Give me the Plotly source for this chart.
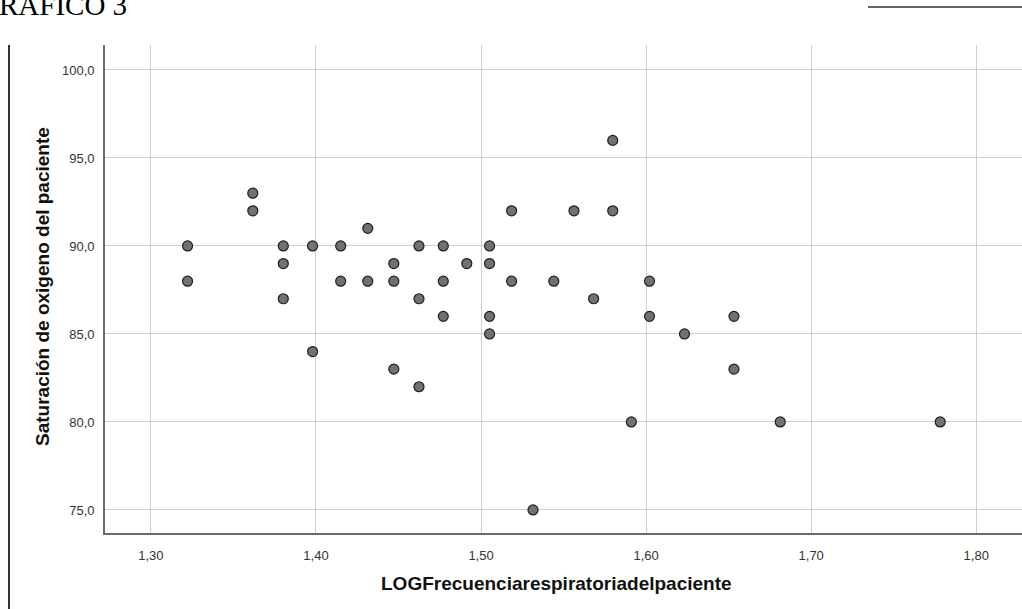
import numpy as np
import plotly.graph_objects as go

# Respiratory rate (breaths/min) and oxygen saturation per patient
resp_rate = [21, 21, 23, 23, 24, 24, 24, 25, 25, 26, 26, 27, 27, 28, 28, 28,
             29, 29, 29, 30, 30, 30, 31, 32, 32, 32, 32, 33, 33, 34, 35, 36,
             37, 38, 38, 39, 40, 40, 42, 45, 45, 48, 60]
spo2 = [90, 88, 93, 92, 90, 89, 87, 90, 84, 90, 88, 91, 88, 89, 88, 83,
        90, 87, 82, 90, 88, 86, 89, 90, 89, 86, 85, 92, 88, 75, 88, 92,
        87, 96, 92, 80, 88, 86, 85, 86, 83, 80, 80]
x_ticks = [1.30, 1.40, 1.50, 1.60, 1.70, 1.80]
y_ticks = [75, 80, 85, 90, 95, 100]

x_title = "LOGFrecuenciarespiratoriadelpaciente"
y_title = "Saturación de oxigeno del paciente"
doc_heading = "RAFICO 3"

log_rate = np.log10(resp_rate)

W, H = 1022, 609
ML, MR, MT, MB = 105, 0, 45, 76
PW, PH = W - ML - MR, H - MT - MB

def px_x(p):
    return (p - ML) / PW

def px_y(p):
    return (H - MB - p) / PH

fig = go.Figure()
fig.add_trace(go.Scatter(
    x=log_rate, y=spo2, mode="markers",
    marker=dict(size=10, color="#717171", line=dict(color="#1e1e1e", width=1.2)),
    hoverinfo="x+y", showlegend=False,
))

axis_font = dict(family="Liberation Sans, Arial, sans-serif", size=13, color="#333333")
title_font = dict(family="Liberation Sans, Arial, sans-serif", size=19, color="#111111")

fig.update_layout(
    width=W, height=H,
    margin=dict(l=ML, r=MR, t=MT, b=MB),
    paper_bgcolor="white", plot_bgcolor="white",
    separators=",.",
    xaxis=dict(
        range=[1.2722, 1.8277], tickvals=x_ticks, tickformat=".2f",
        showgrid=True, gridcolor="#cfcfcf", gridwidth=1.2,
        showline=True, linecolor="#6a6a6a", linewidth=1.6,
        zeroline=False, ticks="", tickfont=axis_font, ticklabelstandoff=10,
    ),
    yaxis=dict(
        range=[73.69, 101.42], tickvals=y_ticks, tickformat=".1f",
        showgrid=True, gridcolor="#cfcfcf", gridwidth=1.2,
        showline=True, linecolor="#6a6a6a", linewidth=1.6,
        zeroline=False, ticks="", tickfont=axis_font, ticklabelstandoff=6,
    ),
    annotations=[
        dict(text=f"<b>{x_title}</b>", xref="paper", yref="paper",
             x=px_x(556), y=px_y(583), xanchor="center", yanchor="middle",
             showarrow=False, font=title_font),
        dict(text=f"<b>{y_title}</b>", xref="paper", yref="paper",
             x=px_x(42), y=px_y(287), xanchor="center", yanchor="middle",
             textangle=-90, showarrow=False, font=title_font),
        dict(text=doc_heading, xref="paper", yref="paper",
             x=px_x(-2), y=px_y(22), xanchor="left", yanchor="bottom",
             showarrow=False, borderpad=0,
             font=dict(family="Liberation Serif, Times New Roman, serif", size=29, color="#000000")),
    ],
    shapes=[
        dict(type="line", xref="paper", yref="paper",
             x0=px_x(868), x1=px_x(1022), y0=px_y(7), y1=px_y(7),
             line=dict(color="#333333", width=1.5)),
        dict(type="line", xref="paper", yref="paper",
             x0=px_x(9), x1=px_x(9), y0=px_y(609), y1=px_y(45),
             line=dict(color="#333333", width=2)),
    ],
)

fig.write_html("out.html", config={"displayModeBar": False},
               post_script="document.body.style.margin='0';document.body.style.overflow='hidden';")
